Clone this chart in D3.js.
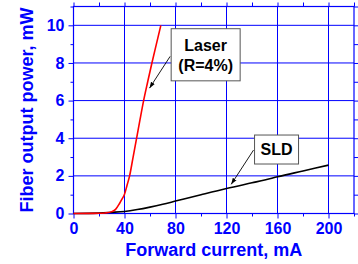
<!DOCTYPE html>
<html>
<head>
<meta charset="utf-8">
<script src="https://cdn.jsdelivr.net/npm/d3@7"></script>
<style>
  body { margin: 0; background: #fff; }
  text { font-family: Arial, "Liberation Sans", sans-serif; font-weight: bold; }
</style>
</head>
<body>
<div id="chart"></div>
<script>
// data (mA, mW)
const laserCurrent = [0, 15, 20, 25, 30, 33, 36, 38, 40, 42, 44, 46.5, 49.5, 52.2, 55, 58.2, 61.5, 65, 68.5]
const laserPower   = [0, 0.005, 0.01, 0.03, 0.1, 0.22, 0.52, 0.76, 1.02, 1.5, 2.0, 2.9, 4.0, 5.0, 6.0, 7.0, 8.0, 9.0, 10.0]
const sldCurrent = [0, 20, 30, 40, 50, 60, 70, 80, 100, 120, 140, 150, 160, 180, 200]
const sldPower   = [0, 0.02, 0.06, 0.11, 0.21, 0.34, 0.49, 0.66, 1.0, 1.33, 1.63, 1.78, 1.95, 2.26, 2.57]

const xMajor = [0, 40, 80, 120, 160, 200]
const xMinor = [20, 60, 100, 140, 180, 220]
const yMajor = [0, 2, 4, 6, 8, 10]
const yMinor = [1, 3, 5, 7, 9, 11]

const BLUE = '#0000ff'
const W = 358, H = 264
const margin = { left: 73.5, right: 4, top: 6.5, bottom: 50.5 }

const svg = d3.select('#chart').append('svg')
	.attr('width', W)
	.attr('height', H)

const x = d3.scaleLinear().domain([0, 220]).range([margin.left, W - margin.right])
const y = d3.scaleLinear().domain([0, 11]).range([H - margin.bottom, margin.top])

/* grid */
svg.append('g').selectAll('line')
	.data(xMajor.filter(d => d > 0))
	.join('line')
	.attr('x1', d => x(d)).attr('x2', d => x(d))
	.attr('y1', y(0)).attr('y2', y(11))
	.attr('stroke', BLUE).attr('stroke-width', 1)

svg.append('g').selectAll('line')
	.data(yMajor.filter(d => d > 0))
	.join('line')
	.attr('x1', x(0)).attr('x2', x(220))
	.attr('y1', d => y(d)).attr('y2', d => y(d))
	.attr('stroke', BLUE).attr('stroke-width', 1)

/* axes */
const xAxis = d3.axisBottom(x).tickValues(xMajor).tickSize(5).tickPadding(4)
const xAxisMinor = d3.axisBottom(x).tickValues(xMinor).tickSize(3).tickFormat('')
const yAxis = d3.axisLeft(y).tickValues(yMajor).tickSize(5).tickPadding(4)
const yAxisMinor = d3.axisLeft(y).tickValues(yMinor).tickSize(3).tickFormat('')
const rightAxis = d3.axisLeft(y).tickValues(yMajor.concat(yMinor)).tickSize(-4).tickFormat('')
const topAxis = d3.axisBottom(x).tickValues(xMajor.concat(xMinor)).tickSize(-4).tickFormat('')

function styleAxis(g) {
	g.select('.domain').remove()
	g.selectAll('line').attr('stroke', BLUE)
	g.selectAll('text')
		.attr('fill', BLUE)
		.attr('font-size', 16)
		.attr('font-family', 'Arial, "Liberation Sans", sans-serif')
		.attr('font-weight', 'bold')
}

svg.append('g').attr('transform', `translate(0,${y(0)})`).call(xAxis).call(styleAxis)
svg.append('g').attr('transform', `translate(0,${y(0)})`).call(xAxisMinor).call(styleAxis)
svg.append('g').attr('transform', `translate(${x(0)},0)`).call(yAxis).call(styleAxis)
svg.append('g').attr('transform', `translate(${x(0)},0)`).call(yAxisMinor).call(styleAxis)
svg.append('g').attr('transform', `translate(${x(220)},0)`).call(rightAxis).call(styleAxis)
svg.append('g').attr('transform', `translate(0,${y(11)})`).call(topAxis).call(styleAxis)

// frame
svg.append('rect')
	.attr('x', x(0)).attr('y', y(11))
	.attr('width', x(220) - x(0)).attr('height', y(0) - y(11))
	.attr('fill', 'none').attr('stroke', BLUE).attr('stroke-width', 1.2)

/* curves */
const line = d3.line()
	.x(d => x(d[0]))
	.y(d => y(d[1]))
	.curve(d3.curveMonotoneX)

svg.append('path')
	.datum(sldCurrent.map((c, i) => [c, sldPower[i]]))
	.attr('d', line)
	.attr('fill', 'none').attr('stroke', '#000').attr('stroke-width', 1.6)

svg.append('path')
	.datum(laserCurrent.map((c, i) => [c, laserPower[i]]))
	.attr('d', line)
	.attr('fill', 'none').attr('stroke', '#ff0000').attr('stroke-width', 1.6)

/* annotations */
svg.append('defs').append('marker')
	.attr('id', 'arrow')
	.attr('viewBox', '0 0 10 10')
	.attr('refX', 10).attr('refY', 5)
	.attr('markerWidth', 7).attr('markerHeight', 7)
	.attr('orient', 'auto')
	.append('path')
	.attr('d', 'M0,1.5 L10,5 L0,8.5 Z')
	.attr('fill', '#000')

const notes = [
	{ lines: ['Laser', '(R=4%)'], box: [76.6, 130.7, 9.82, 7.05], from: [75.8, 8.35], to: [59.6, 6.66] },
	{ lines: ['SLD'], box: [142, 176.5, 4.17, 2.63], from: [141.2, 3.37], to: [123.7, 1.55] },
]

notes.forEach(n => {
	svg.append('line')
		.attr('x1', x(n.from[0])).attr('y1', y(n.from[1]))
		.attr('x2', x(n.to[0])).attr('y2', y(n.to[1]))
		.attr('stroke', '#000').attr('stroke-width', 0.9)
		.attr('marker-end', 'url(#arrow)')

	const [x0, x1, y0, y1] = n.box
	svg.append('rect')
		.attr('x', x(x0)).attr('y', y(y0))
		.attr('width', x(x1) - x(x0)).attr('height', y(y1) - y(y0))
		.attr('fill', '#fff').attr('stroke', '#555').attr('stroke-width', 1)

	const cx = (x(x0) + x(x1)) / 2
	const cy = (y(y0) + y(y1)) / 2
	const lh = 20
	n.lines.forEach((t, i) => {
		svg.append('text')
			.attr('x', cx)
			.attr('y', cy + (i - (n.lines.length - 1) / 2) * lh)
			.attr('dy', '0.36em')
			.attr('text-anchor', 'middle')
			.attr('font-size', 16)
			.attr('fill', '#000')
			.text(t)
	})
})

/* axis labels */
svg.append('text')
	.attr('x', (x(0) + x(220)) / 2 - 0)
	.attr('y', 256)
	.attr('text-anchor', 'middle')
	.attr('font-size', 18)
	.attr('fill', BLUE)
	.text('Forward current, mA')

svg.append('text')
	.attr('transform', `translate(33, ${(y(0) + y(11)) / 2}) rotate(-90)`)
	.attr('text-anchor', 'middle')
	.attr('font-size', 18)
	.attr('fill', BLUE)
	.text('Fiber output power, mW')
</script>
</body>
</html>
